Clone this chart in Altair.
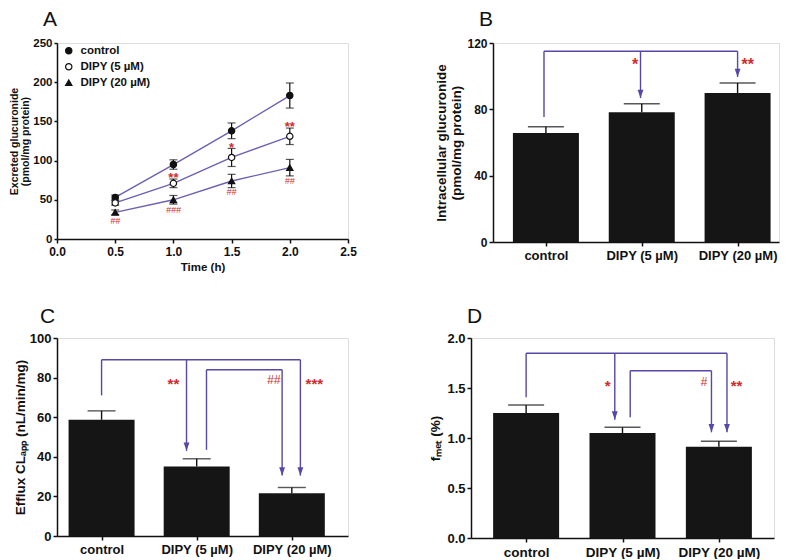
import altair as alt
import pandas as pd

FONT = "Liberation Sans"
LINE = "#6b60b4"
PURPLE = "#5548a6"
RED = "#d22b2b"
INK = "#111111"
BAR = "#151515"

# ---------------- Panel A data ----------------
times = [0.5, 1.0, 1.5, 2.0]
series_names = ["control", "DIPY (5 µM)", "DIPY (20 µM)"]
a_control = [53, 95, 138, 183]
a_control_sem = [3, 6, 10, 16]
a_dipy5 = [46, 71, 104, 131]
a_dipy5_sem = [3, 5.5, 11.5, 10.5]
a_dipy20 = [34, 50, 74, 91]
a_dipy20_sem = [3, 5.5, 8.5, 10.5]
a_xticks = [0.0, 0.5, 1.0, 1.5, 2.0, 2.5]
a_yticks = [0, 50, 100, 150, 200, 250]
a_star_x = [1.0, 1.5, 2.0]
a_star_y = [82, 120, 147]
a_star_t = ["**", "*", "**"]
a_hash_x = [0.5, 1.0, 1.5, 2.0]
a_hash_y = [23, 36.5, 59.5, 73.5]
a_hash_t = ["##", "###", "##", "##"]

# ---------------- Bar panels data ----------------
categories = ["control", "DIPY (5 µM)", "DIPY (20 µM)"]
cat_index = [0, 1, 2]

b_means = [65.7, 78.2, 89.8]
b_err = [3.8, 5.2, 6.1]
b_yticks = [0, 40, 80, 120]
b_seg_x = [-0.02, -0.02, 0.987, 2.0]
b_seg_x2 = [-0.02, 2.0, 0.987, 2.0]
b_seg_y = [75.4, 115, 115, 115]
b_seg_y2 = [115, 115, 86.8, 99.5]
b_tip_x = [0.987, 2.0]
b_tip_y = [86.8, 99.5]
b_star_x = [0.93, 2.107]
b_star_y = [109.3, 109.3]
b_star_t = ["*", "**"]
b_hash_x = []
b_hash_y = []
b_hash_t = []

c_means = [58.7, 35.1, 21.6]
c_err = [4.5, 3.9, 2.9]
c_yticks = [0, 20, 40, 60, 80, 100]
c_seg_x = [0, 0, 0.893, 2.09, 1.103, 1.103, 1.898]
c_seg_x2 = [0, 2.09, 0.893, 2.09, 1.103, 1.898, 1.898]
c_seg_y = [71, 89, 89, 89, 43.5, 84, 84]
c_seg_y2 = [89, 89, 43, 30.5, 84, 84, 30.5]
c_tip_x = [0.893, 1.898, 2.09]
c_tip_y = [43, 30.5, 30.5]
c_star_x = [0.755, 2.237]
c_star_y = [78.6, 78.6]
c_star_t = ["**", "***"]
c_hash_x = [1.81]
c_hash_y = [78.6]
c_hash_t = ["##"]

d_means = [1.25, 1.05, 0.913]
d_err = [0.08, 0.057, 0.054]
d_yticks = [0.0, 0.5, 1.0, 1.5, 2.0]
d_seg_x = [0, 0, 0.92, 2.084, 1.08, 1.08, 1.923]
d_seg_x2 = [0, 2.084, 0.92, 2.084, 1.08, 1.923, 1.923]
d_seg_y = [1.407, 1.847, 1.847, 1.847, 1.207, 1.673, 1.673]
d_seg_y2 = [1.847, 1.847, 1.183, 1.057, 1.673, 1.673, 1.057]
d_tip_x = [0.92, 1.923, 2.084]
d_tip_y = [1.183, 1.057, 1.057]
d_star_x = [0.846, 2.184]
d_star_y = [1.557, 1.557]
d_star_t = ["*", "**"]
d_hash_x = [1.843]
d_hash_y = [1.557]
d_hash_t = ["#"]


def ax(**kw):
    base = dict(domainColor=INK, domainWidth=1.5, tickColor=INK, tickWidth=1.5, tickSize=4,
                labelFont=FONT, labelFontWeight="bold", labelColor=INK,
                titleFont=FONT, titleFontWeight="bold", titleColor=INK,
                grid=False, labelOverlap=False, labelFlush=False, labelBound=False)
    base.update(kw)
    return alt.Axis(**base)


def panel_title(letter, dx, offset):
    return alt.TitleParams(letter, anchor="start", frame="group", font=FONT, fontSize=21,
                           fontWeight="normal", color=INK, dx=dx, offset=offset)


# ---------------- Panel A ----------------
rows = []
for s, m, e in [("control", a_control, a_control_sem),
                ("DIPY (5 µM)", a_dipy5, a_dipy5_sem),
                ("DIPY (20 µM)", a_dipy20, a_dipy20_sem)]:
    for t, mv, ev in zip(times, m, e):
        rows.append(dict(time=t, series=s, mean=mv, lo=mv - ev, hi=mv + ev))
dfA = pd.DataFrame(rows)

xA_axis = ax(values=a_xticks, format=".1f", title="Time (h)", labelFontSize=12, titleFontSize=11.5,
             labelPadding=3, titlePadding=4)
yA_axis = ax(values=a_yticks, title=["Excreted glucuronide", "(pmol/mg protein)"], labelFontSize=11.5,
             titleFontSize=10.5, titleLineHeight=11.5, titlePadding=2, labelPadding=2, tickSize=3)
xsA = alt.Scale(domain=[0, 2.5], nice=False)
ysA = alt.Scale(domain=[0, 250], nice=False)


def xA(f):
    return alt.X(f, type="quantitative", scale=xsA, axis=xA_axis)


def yA(f):
    return alt.Y(f, type="quantitative", scale=ysA, axis=yA_axis)


baseA = alt.Chart(dfA)
lineA = baseA.mark_line(color=LINE, strokeWidth=1.4).encode(x=xA("time"), y=yA("mean"), detail="series:N")
errA = baseA.mark_rule(color=INK, strokeWidth=1.2).encode(x=xA("time"), y=yA("lo"), y2="hi")
capHi = baseA.mark_tick(orient="horizontal", size=8, thickness=1.2, color=INK).encode(x=xA("time"), y=yA("hi"))
capLo = baseA.mark_tick(orient="horizontal", size=8, thickness=1.2, color=INK).encode(x=xA("time"), y=yA("lo"))
leg = alt.Legend(orient="none", legendX=6, legendY=2, title=None, labelFont=FONT, labelFontSize=11.5,
                 labelFontWeight="bold", labelColor=INK, symbolStrokeWidth=1.2,
                 symbolSize=40, rowPadding=3, labelOffset=6)
ptsA = baseA.mark_point(filled=True, size=40, strokeWidth=1.2, opacity=1).encode(
    x=xA("time"), y=yA("mean"),
    shape=alt.Shape("series:N", scale=alt.Scale(domain=series_names, range=["circle", "circle", "triangle-up"]),
                    legend=leg),
    fill=alt.Fill("series:N", scale=alt.Scale(domain=series_names, range=[INK, "white", INK]), legend=leg),
    stroke=alt.Stroke("series:N", scale=alt.Scale(domain=series_names, range=[INK, INK, INK]), legend=leg),
)
starA = alt.Chart(pd.DataFrame(dict(x=a_star_x, y=a_star_y, t=a_star_t))).mark_text(
    font=FONT, fontSize=13, fontWeight="bold", color=RED, baseline="middle", dy=3).encode(
    x=xA("x"), y=yA("y"), text="t:N")
hashA = alt.Chart(pd.DataFrame(dict(x=a_hash_x, y=a_hash_y, t=a_hash_t))).mark_text(
    font=FONT, fontSize=9, fontStyle="italic", color=RED, baseline="middle").encode(
    x=xA("x"), y=yA("y"), text="t:N")

chartA = alt.layer(lineA, errA, capHi, capLo, ptsA, starA, hashA).properties(
    width=291, height=196, title=panel_title("A", -14, 7))


# ---------------- Bar panels ----------------
label_expr = "[" + ",".join("'" + c + "'" for c in categories) + "][datum.value]"


def bar_panel(means, errs, ydom, yticks, yfmt, ytitle, width, height, xdom, cap,
              sx, sx2, sy, sy2, tx, ty, stx, sty, stt, hx, hy, ht, letter, title_dx, title_off,
              ytitle_size, ylabel_size, xlabel_size, ytitle_pad, star_size):
    df = pd.DataFrame(dict(idx=cat_index, name=categories, mean=means,
                           hi=[m + e for m, e in zip(means, errs)]))
    xs = alt.Scale(domain=xdom, nice=False, zero=False)
    ys = alt.Scale(domain=ydom, nice=False)
    xax = ax(values=cat_index, labelExpr=label_expr, title=None, labelFontSize=xlabel_size, labelPadding=3)
    yax = ax(values=yticks, format=yfmt, title=ytitle, labelFontSize=ylabel_size, titleFontSize=ytitle_size,
             titlePadding=ytitle_pad, labelPadding=2)

    def X(f):
        return alt.X(f, type="quantitative", scale=xs, axis=xax)

    def Y(f):
        return alt.Y(f, type="quantitative", scale=ys, axis=yax)

    base = alt.Chart(df)
    bars = base.mark_bar(width=66, color=BAR).encode(x=X("idx"), y=Y("mean"))
    err = base.mark_rule(color=INK, strokeWidth=1.4).encode(x=X("idx"), y=Y("mean"), y2="hi")
    capm = base.mark_tick(orient="horizontal", size=cap, thickness=1.4, color=INK).encode(x=X("idx"), y=Y("hi"))
    segs = alt.Chart(pd.DataFrame(dict(x=sx, x2=sx2, y=sy, y2=sy2))).mark_rule(
        color=PURPLE, strokeWidth=1.4).encode(x=X("x"), x2="x2", y=Y("y"), y2="y2")
    tips = alt.Chart(pd.DataFrame(dict(x=tx, y=ty))).mark_point(
        shape="M -0.7 -2 L 0.7 -2 L 0 0 Z", size=70, filled=True, color=PURPLE, opacity=1).encode(
        x=X("x"), y=Y("y"))
    layers = [bars, err, capm, segs, tips]
    stars = alt.Chart(pd.DataFrame(dict(x=stx, y=sty, t=stt))).mark_text(
        font=FONT, fontSize=star_size, fontWeight="bold", color=RED, baseline="middle", dy=4).encode(
        x=X("x"), y=Y("y"), text="t:N")
    layers.append(stars)
    if hx:
        hashes = alt.Chart(pd.DataFrame(dict(x=hx, y=hy, t=ht))).mark_text(
            font=FONT, fontSize=12, fontStyle="italic", color=RED, baseline="middle").encode(
            x=X("x"), y=Y("y"), text="t:N")
        layers.append(hashes)
    return alt.layer(*layers).properties(width=width, height=height,
                                         title=panel_title(letter, title_dx, title_off))


chartB = bar_panel(b_means, b_err, [0, 120], b_yticks, "d",
                   ["Intracellular glucuronide", "(pmol/mg protein)"], 286, 199, [-0.5, 2.38], 36,
                   b_seg_x, b_seg_x2, b_seg_y, b_seg_y2, b_tip_x, b_tip_y,
                   b_star_x, b_star_y, b_star_t, b_hash_x, b_hash_y, b_hash_t,
                   "B", -14, 7, 13.5, 12, 13, 3, 16)

chartC = bar_panel(c_means, c_err, [0, 100], c_yticks, "d",
                   "Efflux CLₐₚₚ (nL/min/mg)", 291, 198, [-0.416, 2.538], 28,
                   c_seg_x, c_seg_x2, c_seg_y, c_seg_y2, c_tip_x, c_tip_y,
                   c_star_x, c_star_y, c_star_t, c_hash_x, c_hash_y, c_hash_t,
                   "C", -17, 5, 13.5, 13, 13, 2, 15)

chartD = bar_panel(d_means, d_err, [0, 2.0], d_yticks, ".1f",
                   "fₘₑₜ (%)", 303, 200, [-0.52, 2.52], 36,
                   d_seg_x, d_seg_x2, d_seg_y, d_seg_y2, d_tip_x, d_tip_y,
                   d_star_x, d_star_y, d_star_t, d_hash_x, d_hash_y, d_hash_t,
                   "D", -4, 5, 13.5, 13, 13.5, 4, 15)

top = alt.hconcat(chartA, chartB, spacing=76)
bottom = alt.hconcat(chartC, chartD, spacing=79)
chart = alt.vconcat(top, bottom, spacing=32).properties(padding=0).configure_view(stroke=None).configure(
    background="white")

chart.save("out.html", embed_options={"renderer": "svg", "actions": False})
